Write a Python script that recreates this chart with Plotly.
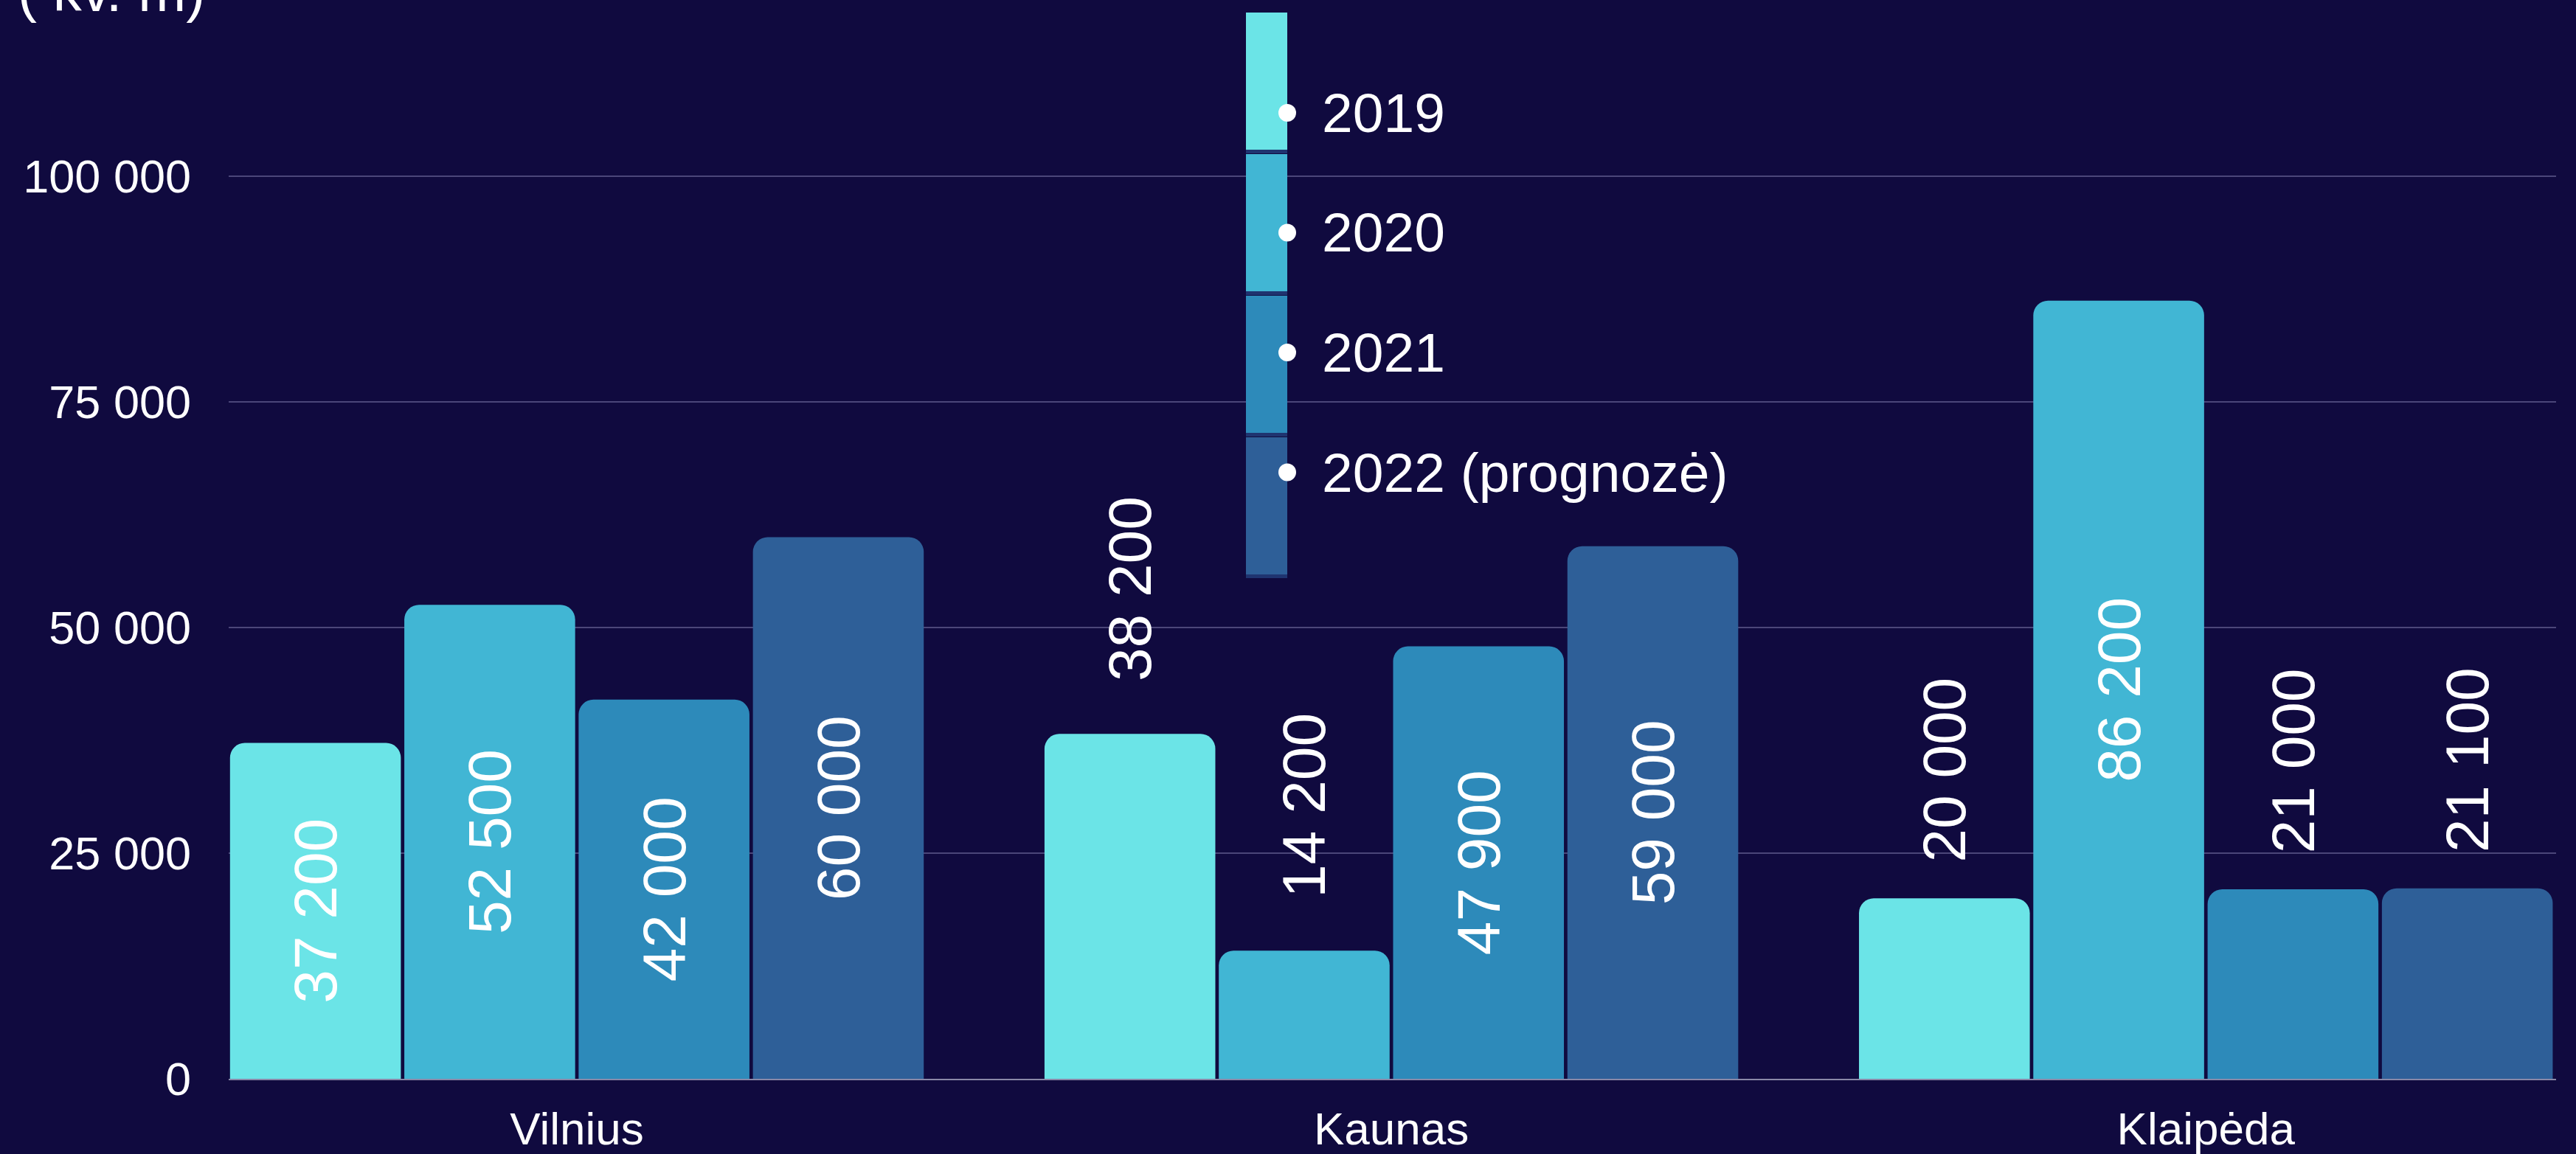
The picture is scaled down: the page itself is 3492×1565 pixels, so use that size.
import plotly.graph_objects as go

# ---- data ----
cities = ["Vilnius", "Kaunas", "Klaipėda"]
years = ["2019", "2020", "2021", "2022 (prognozė)"]
v2019 = [37200, 38200, 20000]
v2020 = [52500, 14200, 86200]
v2021 = [42000, 47900, 21000]
v2022 = [60000, 59000, 21100]
series = [v2019, v2020, v2021, v2022]
colors = ["#6be4e7", "#41b6d4", "#2d8aba", "#2e5f98"]
# label placement per bar (inside / outside) as in the reference
label_pos = [
    ["inside", "outside", "outside"],
    ["inside", "outside", "inside"],
    ["inside", "inside", "outside"],
    ["inside", "inside", "outside"],
]
# extra gap (in non-breaking spaces) between bar top and outside labels
label_pad = [
    [0, 3, 2],
    [0, 3, 0],
    [0, 0, 2],
    [0, 0, 2],
]
y_ticks = [0, 25000, 50000, 75000, 100000]

BG = "#100a3f"
W, H = 3492, 1565
ML, MR, MT, MB = 310, 27, 0, 102
PW, PH = W - ML - MR, H - MT - MB
FONT = "Liberation Sans, Arial"

def px_x(x):
    return (x - ML) / PW

def px_y(y):
    return (H - MB - y) / PH

fig = go.Figure()
for name, vals, col, pos, pad in zip(years, series, colors, label_pos, label_pad):
    tmpl = ["\u00a0" * p + "%{y:,d}" for p in pad]
    fig.add_trace(go.Bar(
        x=cities, y=vals, name=name,
        marker=dict(color=col, line=dict(width=0)),
        texttemplate=tmpl, textposition=pos, textangle=-90,
        insidetextanchor="middle", constraintext="none",
        textfont=dict(family=FONT, size=82, color="white"),
        cliponaxis=False, showlegend=False,
    ))

# ---- custom legend (colour strip with dots) ----
shapes = []
annotations = []
seg_top0, seg_h, seg_step = 17, 186, 192
dot_y0, dot_step = 153, 162.5
strip_l, strip_r = 1689, 1745
for i, (name, col) in enumerate(zip(years, colors)):
    top = seg_top0 + i * seg_step
    shapes.append(dict(type="rect", xref="paper", yref="paper",
                       x0=px_x(strip_l), x1=px_x(strip_r),
                       y0=px_y(top + seg_h), y1=px_y(top),
                       fillcolor=col, line=dict(width=0), layer="above"))
    shapes.append(dict(type="rect", xref="paper", yref="paper",
                       x0=px_x(strip_l), x1=px_x(strip_r),
                       y0=px_y(top + seg_h + 5), y1=px_y(top + seg_h),
                       fillcolor="#1f3470", line=dict(width=0), layer="above"))
    dy = dot_y0 + i * dot_step
    r = 12
    shapes.append(dict(type="circle", xref="paper", yref="paper",
                       x0=px_x(strip_r - r), x1=px_x(strip_r + r),
                       y0=px_y(dy + r), y1=px_y(dy - r),
                       fillcolor="white", line=dict(width=0), layer="above"))
    annotations.append(dict(text=name, xref="paper", yref="paper",
                            x=px_x(1790), y=px_y(dy), xanchor="left", yanchor="middle",
                            showarrow=False,
                            font=dict(family=FONT, size=75, color="white")))

# y-axis unit title (cut at top edge as in reference)
annotations.append(dict(text="( kv. m)", xref="paper", yref="paper",
                        x=px_x(22), y=1, xanchor="left", yanchor="bottom", yshift=-34,
                        showarrow=False,
                        font=dict(family=FONT, size=78, color="white")))

fig.update_layout(
    width=W, height=H,
    margin=dict(l=ML, r=MR, t=MT, b=MB, pad=0),
    paper_bgcolor=BG, plot_bgcolor=BG,
    barmode="group", bargap=0.144, bargroupgap=0.02,
    barcornerradius=20,
    separators=", ",
    shapes=shapes, annotations=annotations,
    font=dict(family=FONT, color="white", size=62),
)
fig.update_xaxes(
    range=[-0.4275, 2.43], showgrid=False, zeroline=False, automargin=False,
    showline=True, linecolor="#8a88a8", linewidth=2,
    ticks="", ticklabelstandoff=13,
    tickfont=dict(family=FONT, size=62, color="white"),
)
fig.update_yaxes(
    range=[0, 119500], tickvals=y_ticks, tickformat=",d", automargin=False,
    showgrid=True, gridcolor="#4b4679", gridwidth=2,
    zeroline=False, showline=False, ticks="", ticklabelstandoff=50,
    tickfont=dict(family=FONT, size=63, color="white"),
)

fig.write_html(
    "out.html",
    config={"displayModeBar": False},
    post_script="document.body.style.margin='0';document.body.style.background='%s';" % BG,
)
